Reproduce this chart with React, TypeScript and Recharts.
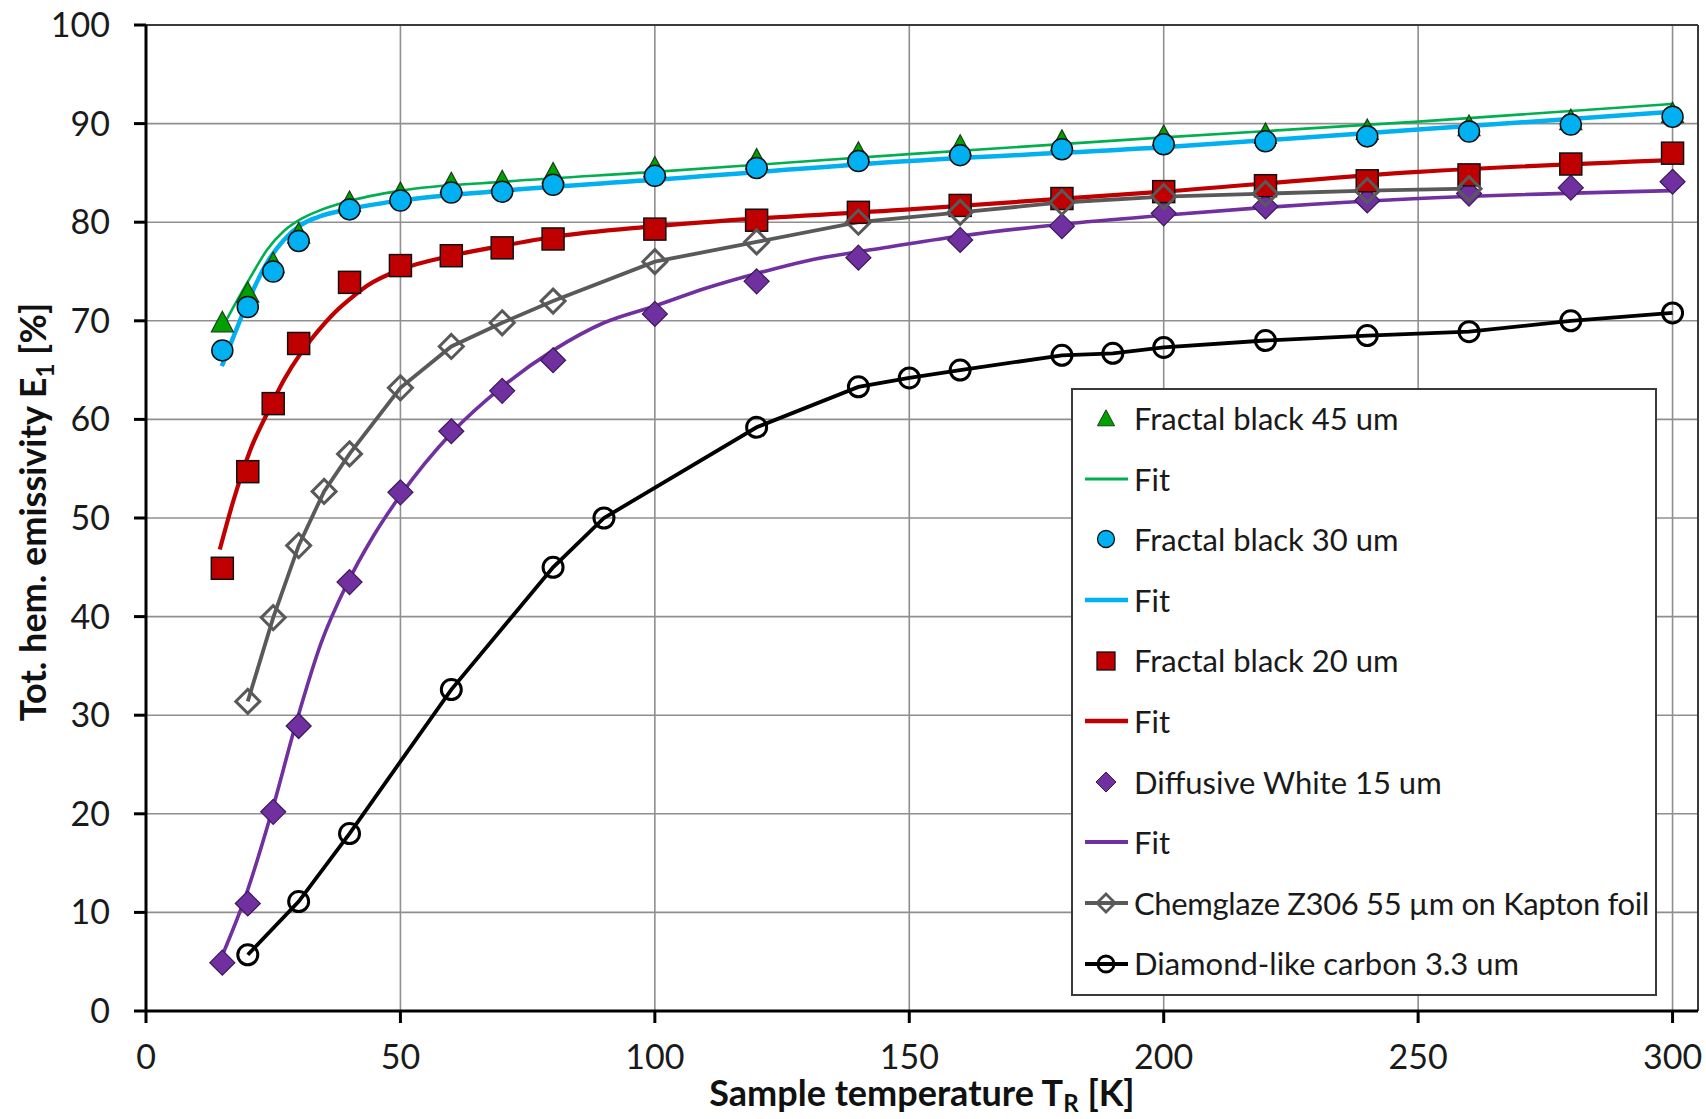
import React from 'react';
import {
  ComposedChart,
  Line,
  Scatter,
  XAxis,
  YAxis,
  CartesianGrid,
  ReferenceLine,
  Legend,
} from 'recharts';

// ---------- data ----------
const tempsMain = [15, 20, 25, 30, 40, 50, 60, 70, 80, 100, 120, 140, 160, 180, 200, 220, 240, 260, 280, 300];
const fractal45 = [69.9, 72.9, 75.9, 78.9, 82.1, 83.0, 84.0, 84.2, 85.0, 85.6, 86.4, 87.1, 87.8, 88.3, 88.8, 89.0, 89.4, 89.8, 90.4, 91.1];
const fractal30 = [67.0, 71.4, 75.0, 78.1, 81.3, 82.2, 83.0, 83.1, 83.8, 84.7, 85.5, 86.2, 86.8, 87.4, 87.9, 88.2, 88.7, 89.2, 89.9, 90.7];
const fractal20 = [44.9, 54.7, 61.6, 67.7, 73.9, 75.6, 76.6, 77.4, 78.3, 79.3, 80.2, 81.0, 81.7, 82.4, 83.1, 83.7, 84.2, 84.8, 85.9, 87.0];
const diffWhite15 = [4.9, 10.9, 20.2, 28.9, 43.5, 52.6, 58.8, 62.9, 66.0, 70.7, 74.0, 76.4, 78.2, 79.6, 80.9, 81.6, 82.2, 82.9, 83.5, 84.1];

const fit45T = [15.3, 17.2, 20.5, 23.8, 27.1, 30.4, 33.7, 39.6, 50, 70, 100, 150, 200, 250, 300];
const fit45V = [69.6, 71.4, 74.4, 77.2, 79.1, 80.3, 81.1, 82.1, 83.2, 84.1, 85.1, 86.9, 88.6, 90.2, 92.0];

const fit30T = [14.9, 17.2, 20.5, 23.8, 27.1, 30.4, 33.7, 39.6, 50, 70, 100, 150, 200, 250, 300];
const fit30V = [65.4, 68.4, 72.5, 75.9, 78.2, 79.7, 80.5, 81.3, 82.2, 83.2, 84.3, 86.2, 87.6, 89.4, 91.2];

const fit20T = [14.5, 17.2, 20.5, 23.8, 27.1, 30.4, 33.7, 37, 40.3, 43.6, 50, 60, 70, 80, 100, 150, 200, 250, 300];
const fit20V = [46.8, 51.8, 56.9, 60.6, 64.0, 66.7, 68.9, 70.8, 72.3, 73.6, 75.2, 76.6, 77.6, 78.5, 79.6, 81.3, 83.1, 85.1, 86.3];

const fit15T = [15.2, 19.4, 24.6, 29.5, 34.4, 39.3, 44.6, 50, 60, 70, 80, 90, 100, 110, 120, 130, 145, 160, 180, 200, 220, 250, 300];
const fit15V = [5.9, 11.4, 20.0, 29.2, 37.3, 43.1, 48.1, 52.3, 58.6, 63.3, 67.0, 69.8, 71.5, 73.3, 74.8, 76.1, 77.4, 78.6, 79.8, 80.7, 81.5, 82.4, 83.2];

const chemT = [20, 25, 30, 35, 40, 50, 60, 70, 80, 100, 120, 140, 160, 180, 200, 220, 240, 260];
const chemV = [31.4, 39.9, 47.2, 52.7, 56.5, 63.2, 67.4, 69.8, 72.0, 76.0, 78.0, 80.0, 81.0, 82.0, 82.6, 82.9, 83.2, 83.4];

const dlcT = [20, 30, 40, 60, 80, 90, 120, 140, 150, 160, 180, 190, 200, 220, 240, 260, 280, 300];
const dlcV = [5.7, 11.1, 18.0, 32.6, 45.0, 50.0, 59.2, 63.3, 64.2, 65.0, 66.5, 66.7, 67.3, 68.0, 68.5, 68.9, 70.0, 70.8];

const xTicks = [0, 50, 100, 150, 200, 250, 300];
const yTicks = [0, 10, 20, 30, 40, 50, 60, 70, 80, 90, 100];

const legendLabels = [
  'Fractal black 45 um',
  'Fit',
  'Fractal black 30 um',
  'Fit',
  'Fractal black 20 um',
  'Fit',
  'Diffusive White 15 um',
  'Fit',
  'Chemglaze Z306 55 µm on Kapton foil',
  'Diamond-like carbon 3.3 um',
];

const pts = (xs: number[], ys: number[]) => xs.map((x, i) => ({ x, y: ys[i] }));

// ---------- styles ----------
const FONT = 'Lato, "Open Sans", sans-serif';
const C_GREEN_M = '#00A000';
const C_GREEN_L = '#00B050';
const C_CYAN = '#00B0F0';
const C_RED = '#C00000';
const C_PURPLE = '#7030A0';
const C_GRAY = '#595959';
const C_BLACK = '#000000';

// ---------- marker shapes ----------
const triPath = (cx: number, cy: number, s = 1) =>
  `M${cx},${cy - 10.5 * s} L${cx + 11 * s},${cy + 10 * s} L${cx - 11 * s},${cy + 10 * s} Z`;
const diaPath = (cx: number, cy: number, r: number) =>
  `M${cx},${cy - r} L${cx + r},${cy} L${cx},${cy + r} L${cx - r},${cy} Z`;

const TriangleShape = (p: any) =>
  p.cx == null ? null : <path d={triPath(p.cx, p.cy)} fill={C_GREEN_M} stroke="#1b3d1b" strokeWidth={1.2} />;
const CircleShape = (p: any) =>
  p.cx == null ? null : <circle cx={p.cx} cy={p.cy} r={10.5} fill={C_CYAN} stroke="#111" strokeWidth={1.5} />;
const SquareShape = (p: any) =>
  p.cx == null ? null : (
    <rect x={p.cx - 11} y={p.cy - 11} width={22} height={22} fill={C_RED} stroke="#111" strokeWidth={1.5} />
  );
const DiamondShape = (p: any) =>
  p.cx == null ? null : <path d={diaPath(p.cx, p.cy, 12.5)} fill={C_PURPLE} stroke="#3a1a55" strokeWidth={1.2} />;
const OpenDiamondDot = (p: any) =>
  p.cx == null ? null : (
    <path key={`gd${p.index}`} d={diaPath(p.cx, p.cy, 12)} fill="none" stroke={C_GRAY} strokeWidth={3} />
  );
const OpenCircleDot = (p: any) =>
  p.cx == null ? null : (
    <circle key={`bd${p.index}`} cx={p.cx} cy={p.cy} r={10} fill="none" stroke={C_BLACK} strokeWidth={3} />
  );

// ---------- legend ----------
const LegendIcon = ({ i }: { i: number }) => {
  const w = 60;
  const h = 40;
  const cx = 33;
  const cy = 20;
  let inner: React.ReactNode = null;
  switch (i) {
    case 0:
      inner = <path d={triPath(cx, cy, 0.78)} fill={C_GREEN_M} stroke="#1b3d1b" strokeWidth={1} />;
      break;
    case 1:
      inner = <line x1={12} y1={cy} x2={55} y2={cy} stroke={C_GREEN_L} strokeWidth={2.8} />;
      break;
    case 2:
      inner = <circle cx={cx} cy={cy} r={8.5} fill={C_CYAN} stroke="#111" strokeWidth={1.3} />;
      break;
    case 3:
      inner = <line x1={12} y1={cy} x2={55} y2={cy} stroke={C_CYAN} strokeWidth={4.5} />;
      break;
    case 4:
      inner = <rect x={cx - 9} y={cy - 9} width={18} height={18} fill={C_RED} stroke="#111" strokeWidth={1.3} />;
      break;
    case 5:
      inner = <line x1={12} y1={cy} x2={55} y2={cy} stroke={C_RED} strokeWidth={4.5} />;
      break;
    case 6:
      inner = <path d={diaPath(cx, cy, 10)} fill={C_PURPLE} stroke="#3a1a55" strokeWidth={1} />;
      break;
    case 7:
      inner = <line x1={12} y1={cy} x2={55} y2={cy} stroke={C_PURPLE} strokeWidth={3.8} />;
      break;
    case 8:
      inner = (
        <g>
          <line x1={12} y1={cy} x2={55} y2={cy} stroke={C_GRAY} strokeWidth={3.8} />
          <path d={diaPath(cx, cy, 9)} fill="none" stroke={C_GRAY} strokeWidth={2.8} />
        </g>
      );
      break;
    case 9:
      inner = (
        <g>
          <line x1={12} y1={cy} x2={55} y2={cy} stroke={C_BLACK} strokeWidth={3.8} />
          <circle cx={cx} cy={cy} r={8} fill="none" stroke={C_BLACK} strokeWidth={2.8} />
        </g>
      );
      break;
  }
  return (
    <svg width={w} height={h} style={{ position: 'absolute', left: 0, top: '50%', marginTop: -h / 2 }}>
      {inner}
    </svg>
  );
};

const LegendBox = () => (
  <div
    style={{
      boxSizing: 'border-box',
      width: 586,
      height: 608,
      border: '2px solid #3a3a3a',
      background: '#ffffff',
      fontFamily: FONT,
      fontSize: 31,
      color: '#1a1a1a',
      position: 'relative',
    }}
  >
    {legendLabels.map((label, i) => (
      <div
        key={i}
        style={{
          position: 'absolute',
          left: 0,
          top: i * 60.6 - 2,
          height: 60.6,
          width: 580,
          lineHeight: '60.6px',
          whiteSpace: 'nowrap',
        }}
      >
        <LegendIcon i={i} />
        <span style={{ position: 'absolute', left: 61, top: 0, letterSpacing: i === 8 ? -0.35 : 0 }}>{label}</span>
      </div>
    ))}
  </div>
);

// ---------- axis titles ----------
const YTitle = () => {
  const cx = 33;
  const cy = 512;
  return (
    <text
      x={cx}
      y={cy}
      transform={`rotate(-90, ${cx}, ${cy})`}
      textAnchor="middle"
      dy="0.36em"
      fontFamily={FONT}
      fontWeight={700}
      fontSize={36}
      fill="#111"
    >
      <tspan>Tot. hem. emissivity E</tspan>
      <tspan fontSize={24} dy={8}>1</tspan>
      <tspan dy={-8}> [%]</tspan>
    </text>
  );
};

const XTitle = (props: any) => {
  const vb = props.viewBox || {};
  const cx = (vb.x ?? 146) + (vb.width ?? 1552) / 2;
  const y = (vb.y ?? 1011) + 95;
  return (
    <text x={cx} y={y} textAnchor="middle" fontFamily={FONT} fontWeight={700} fontSize={36} fill="#111">
      <tspan>Sample temperature T</tspan>
      <tspan fontSize={24} dy={6}>R</tspan>
      <tspan dy={-6}> [K]</tspan>
    </text>
  );
};

const tickStyle = { fontSize: 34, fill: '#1a1a1a', fontFamily: FONT };

export default function App() {
  return (
    <div style={{ position: 'absolute', left: 0, top: 0, width: 1706, height: 1119, overflow: 'hidden' }}>
      <ComposedChart
        width={1706}
        height={1119}
        margin={{ top: 25, right: 8, bottom: 0, left: 0 }}
      >
        <CartesianGrid stroke="#8f8f8f" strokeWidth={1.6} />
        <XAxis
          type="number"
          dataKey="x"
          domain={[0, 305]}
          ticks={xTicks}
          allowDataOverflow
          height={108}
          tickSize={12}
          tickMargin={22}
          tick={tickStyle}
          axisLine={{ stroke: '#000', strokeWidth: 3 }}
          tickLine={{ stroke: '#000', strokeWidth: 3 }}
          label={{ content: XTitle }}
        />
        <YAxis
          type="number"
          dataKey="y"
          domain={[0, 100]}
          ticks={yTicks}
          allowDataOverflow
          width={146}
          tickSize={12}
          tickMargin={24}
          tick={tickStyle}
          axisLine={{ stroke: '#000', strokeWidth: 3 }}
          tickLine={{ stroke: '#000', strokeWidth: 3 }}
          label={{ content: YTitle }}
        />
        <ReferenceLine x={305} stroke="#3a3a3a" strokeWidth={2} />
        <ReferenceLine y={100} stroke="#3a3a3a" strokeWidth={2} />

        <Line
          data={pts(chemT, chemV)}
          dataKey="y"
          type="linear"
          stroke={C_GRAY}
          strokeWidth={3.8}
          dot={OpenDiamondDot}
          activeDot={false}
          isAnimationActive={false}
        />
        <Line
          data={pts(dlcT, dlcV)}
          dataKey="y"
          type="linear"
          stroke={C_BLACK}
          strokeWidth={3.8}
          dot={OpenCircleDot}
          activeDot={false}
          isAnimationActive={false}
        />
        <Line
          data={pts(fit15T, fit15V)}
          dataKey="y"
          type="monotone"
          stroke={C_PURPLE}
          strokeWidth={3.6}
          dot={false}
          activeDot={false}
          isAnimationActive={false}
        />
        <Line
          data={pts(fit20T, fit20V)}
          dataKey="y"
          type="monotone"
          stroke={C_RED}
          strokeWidth={4.2}
          dot={false}
          activeDot={false}
          isAnimationActive={false}
        />
        <Line
          data={pts(fit45T, fit45V)}
          dataKey="y"
          type="monotone"
          stroke={C_GREEN_L}
          strokeWidth={2.6}
          dot={false}
          activeDot={false}
          isAnimationActive={false}
        />
        <Line
          data={pts(fit30T, fit30V)}
          dataKey="y"
          type="monotone"
          stroke={C_CYAN}
          strokeWidth={4.5}
          dot={false}
          activeDot={false}
          isAnimationActive={false}
        />

        <Scatter data={pts(tempsMain, diffWhite15)} dataKey="y" shape={DiamondShape} isAnimationActive={false} />
        <Scatter data={pts(tempsMain, fractal20)} dataKey="y" shape={SquareShape} isAnimationActive={false} />
        <Scatter data={pts(tempsMain, fractal45)} dataKey="y" shape={TriangleShape} isAnimationActive={false} />
        <Scatter data={pts(tempsMain, fractal30)} dataKey="y" shape={CircleShape} isAnimationActive={false} />

        <Legend
          layout="vertical"
          align="center"
          verticalAlign="middle"
          wrapperStyle={{ left: 1071, top: 388, width: 586, height: 608 }}
          content={() => <LegendBox />}
        />
      </ComposedChart>
    </div>
  );
}
